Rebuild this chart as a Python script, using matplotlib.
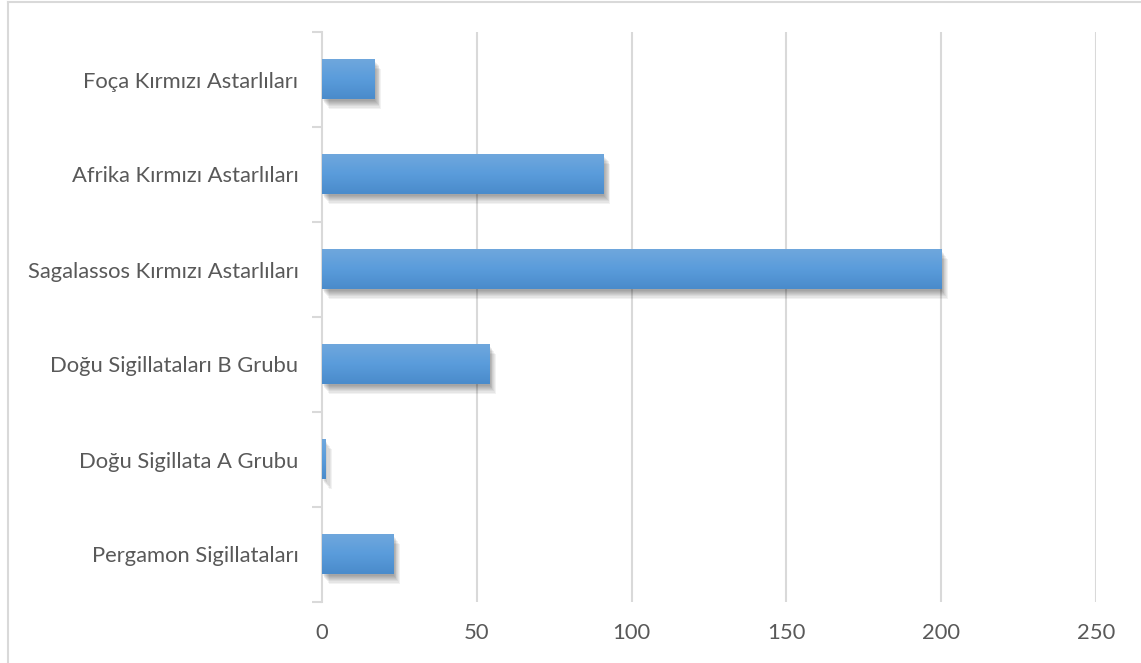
import numpy as np
import matplotlib
matplotlib.use("Agg")
from matplotlib import pyplot as plt
from matplotlib import patheffects as pe
from matplotlib.lines import Line2D
from matplotlib.colors import LinearSegmentedColormap

# data, bottom to top
categories = ["Pergamon Sigillataları", "Doğu Sigillata A Grubu",
              "Doğu Sigillataları B Grubu", "Sagalassos Kırmızı Astarlıları",
              "Afrika Kırmızı Astarlıları", "Foça Kırmızı Astarlıları"]
values = [23, 1, 54, 200, 91, 17]
x_ticks = [0, 50, 100, 150, 200, 250]

plt.rcParams['font.family'] = ['Lato', 'DejaVu Sans']
text_color = '#595959'
line_color = '#d9d9d9'

fig = plt.figure(figsize=(11.41, 6.63), dpi=100)
ax = fig.add_axes([322/1141, 1-602/663, (1096-322)/1141, (602-32)/663])

y = np.arange(len(categories))
bar_h = 0.42
# soft drop shadow: stacked faint copies
shadow = [pe.SimplePatchShadow(offset=(0.5+k*0.6, -1-k*0.8), shadow_rgbFace='black', alpha=0.05) for k in range(8)]
bars = ax.barh(y, values, height=bar_h, color='#5b9bd5', zorder=3)
grad = LinearSegmentedColormap.from_list('g', ['#4a8bcb', '#5a9cdb', '#6fa7dd'])
for b in bars:
    b.set_path_effects(shadow + [pe.Normal()])
    x0, y0 = b.get_x(), b.get_y()
    w, h = b.get_width(), b.get_height()
    ax.imshow(np.linspace(0, 1, 64).reshape(-1, 1), cmap=grad, aspect='auto',
              extent=(x0, x0 + w, y0, y0 + h), origin='lower', zorder=4, interpolation='bilinear')

ax.set_xlim(0, 250)
ax.set_ylim(-0.5, len(categories) - 0.5)
ax.set_xticks(x_ticks)
ax.set_yticks(y)
ax.set_yticklabels(categories)
ax.set_yticks(np.arange(-0.5, len(categories)), minor=True)
ax.tick_params(axis='y', which='major', length=0, pad=17, labelsize=15.8, labelcolor=text_color)
ax.tick_params(axis='y', which='minor', length=7, width=1.5, color=line_color)
ax.tick_params(axis='x', length=0, pad=15, labelsize=15.8, labelcolor=text_color)

for v in x_ticks[1:]:
    ax.axvline(v, color=line_color, lw=1.5, zorder=1)
for s in ['top', 'right', 'bottom']:
    ax.spines[s].set_visible(False)
ax.spines['left'].set_color(line_color)
ax.spines['left'].set_linewidth(1.5)

# outer chart border (left and top only visible)
fig.add_artist(Line2D([8/1141, 8/1141], [0, 1-2/663], color=line_color, lw=1.5))
fig.add_artist(Line2D([8/1141, 1], [1-2/663, 1-2/663], color=line_color, lw=1.5))

fig.savefig('out.png', dpi=100)
